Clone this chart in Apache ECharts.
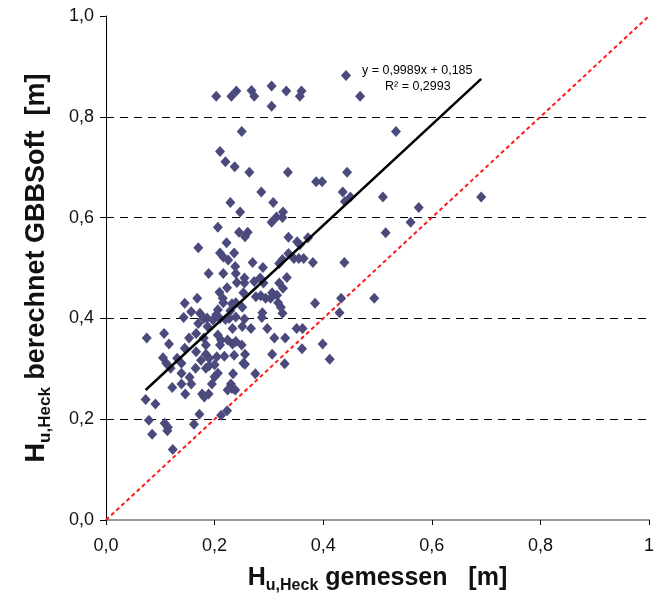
<!DOCTYPE html>
<html><head><meta charset="utf-8">
<script src="https://cdn.jsdelivr.net/npm/echarts@6/dist/echarts.min.js"></script>
<style>html,body{margin:0;padding:0;background:#fff}#c{width:657px;height:603px}</style>
</head><body><div id="c"></div>
<script>
// H_u,Heck gemessen [m]
const measured = [
0.203,0.231,0.240,0.268,0.273,0.305,0.332,0.360,0.357,0.305,0.442,0.468,0.250,0.534,0.210,0.220,0.237,0.264,0.335,0.444,
0.387,0.398,0.286,0.436,0.450,0.440,0.510,0.691,0.229,0.308,0.576,0.247,0.326,0.325,0.314,0.305,0.561,0.206,0.245,0.261,
0.256,0.336,0.515,0.352,0.357,0.372,0.170,0.222,0.210,0.216,0.236,0.225,0.270,0.289,0.336,0.325,0.319,0.346,0.355,0.364,
0.381,0.439,0.189,0.216,0.238,0.239,0.255,0.241,0.255,0.273,0.284,0.290,0.333,0.319,0.326,0.209,0.223,0.253,0.276,0.285,
0.294,0.306,0.303,0.315,0.433,0.494,0.317,0.322,0.385,0.430,0.325,0.145,0.168,0.215,0.216,0.232,0.239,0.206,0.203,0.229,
0.251,0.157,0.173,0.186,0.180,0.143,0.197,0.210,0.220,0.227,0.239,0.255,0.287,0.288,0.170,0.187,0.233,0.251,0.267,0.297,
0.351,0.362,0.075,0.107,0.116,0.166,0.153,0.180,0.184,0.206,0.212,0.210,0.224,0.233,0.239,0.250,0.310,0.330,0.399,0.145,
0.361,0.105,0.111,0.131,0.139,0.166,0.184,0.190,0.175,0.204,0.200,0.218,0.236,0.253,0.306,0.256,0.256,0.329,0.412,0.119,
0.139,0.154,0.165,0.184,0.190,0.206,0.200,0.234,0.275,0.122,0.139,0.157,0.195,0.230,0.232,0.224,0.238,0.146,0.177,0.189,
0.181,0.073,0.091,0.172,0.212,0.223,0.079,0.108,0.114,0.113,0.162,0.085,0.123
];
// H_u,Heck berechnet GBBSoft [m]
const computed = [
0.841,0.841,0.851,0.852,0.841,0.861,0.851,0.851,0.841,0.821,0.882,0.841,0.771,0.771,0.731,0.711,0.701,0.690,0.690,0.690,
0.671,0.671,0.651,0.651,0.641,0.632,0.641,0.641,0.630,0.630,0.620,0.611,0.611,0.600,0.601,0.591,0.591,0.581,0.571,0.571,
0.562,0.561,0.570,0.552,0.546,0.560,0.540,0.550,0.530,0.522,0.530,0.516,0.511,0.501,0.529,0.517,0.509,0.519,0.519,0.519,
0.511,0.511,0.489,0.489,0.503,0.489,0.480,0.471,0.470,0.473,0.480,0.470,0.481,0.470,0.460,0.452,0.461,0.451,0.443,0.445,
0.440,0.451,0.440,0.446,0.440,0.440,0.431,0.422,0.430,0.411,0.410,0.430,0.440,0.440,0.431,0.429,0.431,0.417,0.407,0.415,
0.422,0.413,0.410,0.401,0.400,0.402,0.397,0.400,0.398,0.400,0.403,0.399,0.402,0.411,0.390,0.384,0.380,0.384,0.380,0.380,
0.380,0.380,0.361,0.370,0.349,0.370,0.361,0.361,0.347,0.367,0.357,0.347,0.357,0.349,0.354,0.347,0.361,0.361,0.349,0.341,
0.340,0.322,0.311,0.321,0.311,0.334,0.329,0.321,0.317,0.324,0.308,0.325,0.327,0.311,0.329,0.329,0.309,0.310,0.319,0.301,
0.291,0.283,0.301,0.301,0.306,0.291,0.284,0.290,0.290,0.263,0.270,0.270,0.270,0.270,0.261,0.258,0.258,0.250,0.250,0.250,
0.244,0.239,0.230,0.210,0.208,0.217,0.198,0.192,0.184,0.177,0.190,0.170,0.140
];
const trendSlope = 0.9989;
const trendIntercept = 0.185;
const trendR2 = '0,2993';
const xTickLabels = ['0,0','0,2','0,4','0,6','0,8','1'];
const yTickLabels = ['0,0','0,2','0,4','0,6','0,8','1,0'];
const axisMin = 0, axisMax = 1, axisStep = 0.2;

const points = measured.map((x, i) => [x, computed[i]]);
const xMin = Math.min(...measured), xMax = Math.max(...measured);
const trend = [[xMin, trendSlope * xMin + trendIntercept], [xMax, trendSlope * xMax + trendIntercept]];
const identity = [[axisMin, axisMin], [axisMax, axisMax]];

const FONT = '"Liberation Sans", Arial, sans-serif';
const chart = echarts.init(document.getElementById('c'), null, {renderer: 'canvas'});
const tickIdx = v => Math.round((v - axisMin) / axisStep);
const rich = (big, small) => ({
  b: {fontSize: big, fontWeight: 'bold', fontFamily: FONT, color: '#111', lineHeight: big + 7},
  s: {fontSize: small, fontWeight: 'bold', fontFamily: FONT, color: '#111', lineHeight: small, verticalAlign: 'bottom'}
});

chart.setOption({
  animation: false,
  backgroundColor: '#fff',
  grid: {left: 106, right: 6, top: 16, bottom: 83},
  xAxis: [{
    type: 'value', min: axisMin, max: axisMax, interval: axisStep,
    axisLine: {show: true, onZero: false, lineStyle: {color: '#000', width: 1}},
    axisTick: {show: true, inside: false, length: 5, lineStyle: {color: '#000'}},
    axisLabel: {formatter: v => xTickLabels[tickIdx(v)], color: '#111', fontSize: 18, fontFamily: FONT, margin: 17},
    splitLine: {show: false},
    name: '{b|H}{s|u,Heck}{b| gemessen   [m]}',
    nameLocation: 'middle', nameGap: 42,
    nameTextStyle: {rich: rich(25, 16)}
  }, {
    type: 'value', position: 'top', min: axisMin, max: axisMax,
    axisLine: {show: true, lineStyle: {color: '#999', width: 2}},
    axisTick: {show: false}, axisLabel: {show: false}, splitLine: {show: false}
  }],
  yAxis: {
    type: 'value', min: axisMin, max: axisMax, interval: axisStep,
    axisLine: {show: true, onZero: false, lineStyle: {color: '#000', width: 1}},
    axisTick: {show: true, inside: false, length: 6, lineStyle: {color: '#000'}},
    axisLabel: {formatter: v => yTickLabels[tickIdx(v)], color: '#111', fontSize: 18, fontFamily: FONT, margin: 12},
    splitLine: {show: true, showMinLine: false, showMaxLine: false, lineStyle: {color: '#000', width: 1, type: [8, 6]}},
    name: '{b|H}{s|u,Heck}{b| berechnet GBBSoft  [m]}',
    nameLocation: 'middle', nameGap: 52, nameRotate: 90,
    nameTextStyle: {rich: rich(27, 17)}
  },
  series: [
    {
      type: 'line', data: identity, symbol: 'none', silent: true, z: 2,
      lineStyle: {color: '#FF1A1A', width: 2, type: [4, 3]}
    },
    {
      type: 'scatter', data: points, symbol: 'diamond', symbolSize: [10, 11], z: 3,
      itemStyle: {color: '#4B4A7C', opacity: 1}
    },
    {
      type: 'line', data: trend, symbol: 'none', silent: true, z: 4,
      lineStyle: {color: '#000', width: 2.5}
    }
  ],
  graphic: [
    {type: 'text', left: 362, top: 64, style: {text: 'y = ' + trendSlope.toString().replace('.', ',') + 'x + ' + trendIntercept.toString().replace('.', ','), font: '12.5px ' + FONT, fill: '#000'}},
    {type: 'text', left: 385, top: 80, style: {text: 'R\u00B2 = ' + trendR2, font: '12.5px ' + FONT, fill: '#000'}}
  ]
});
</script>
</body></html>
